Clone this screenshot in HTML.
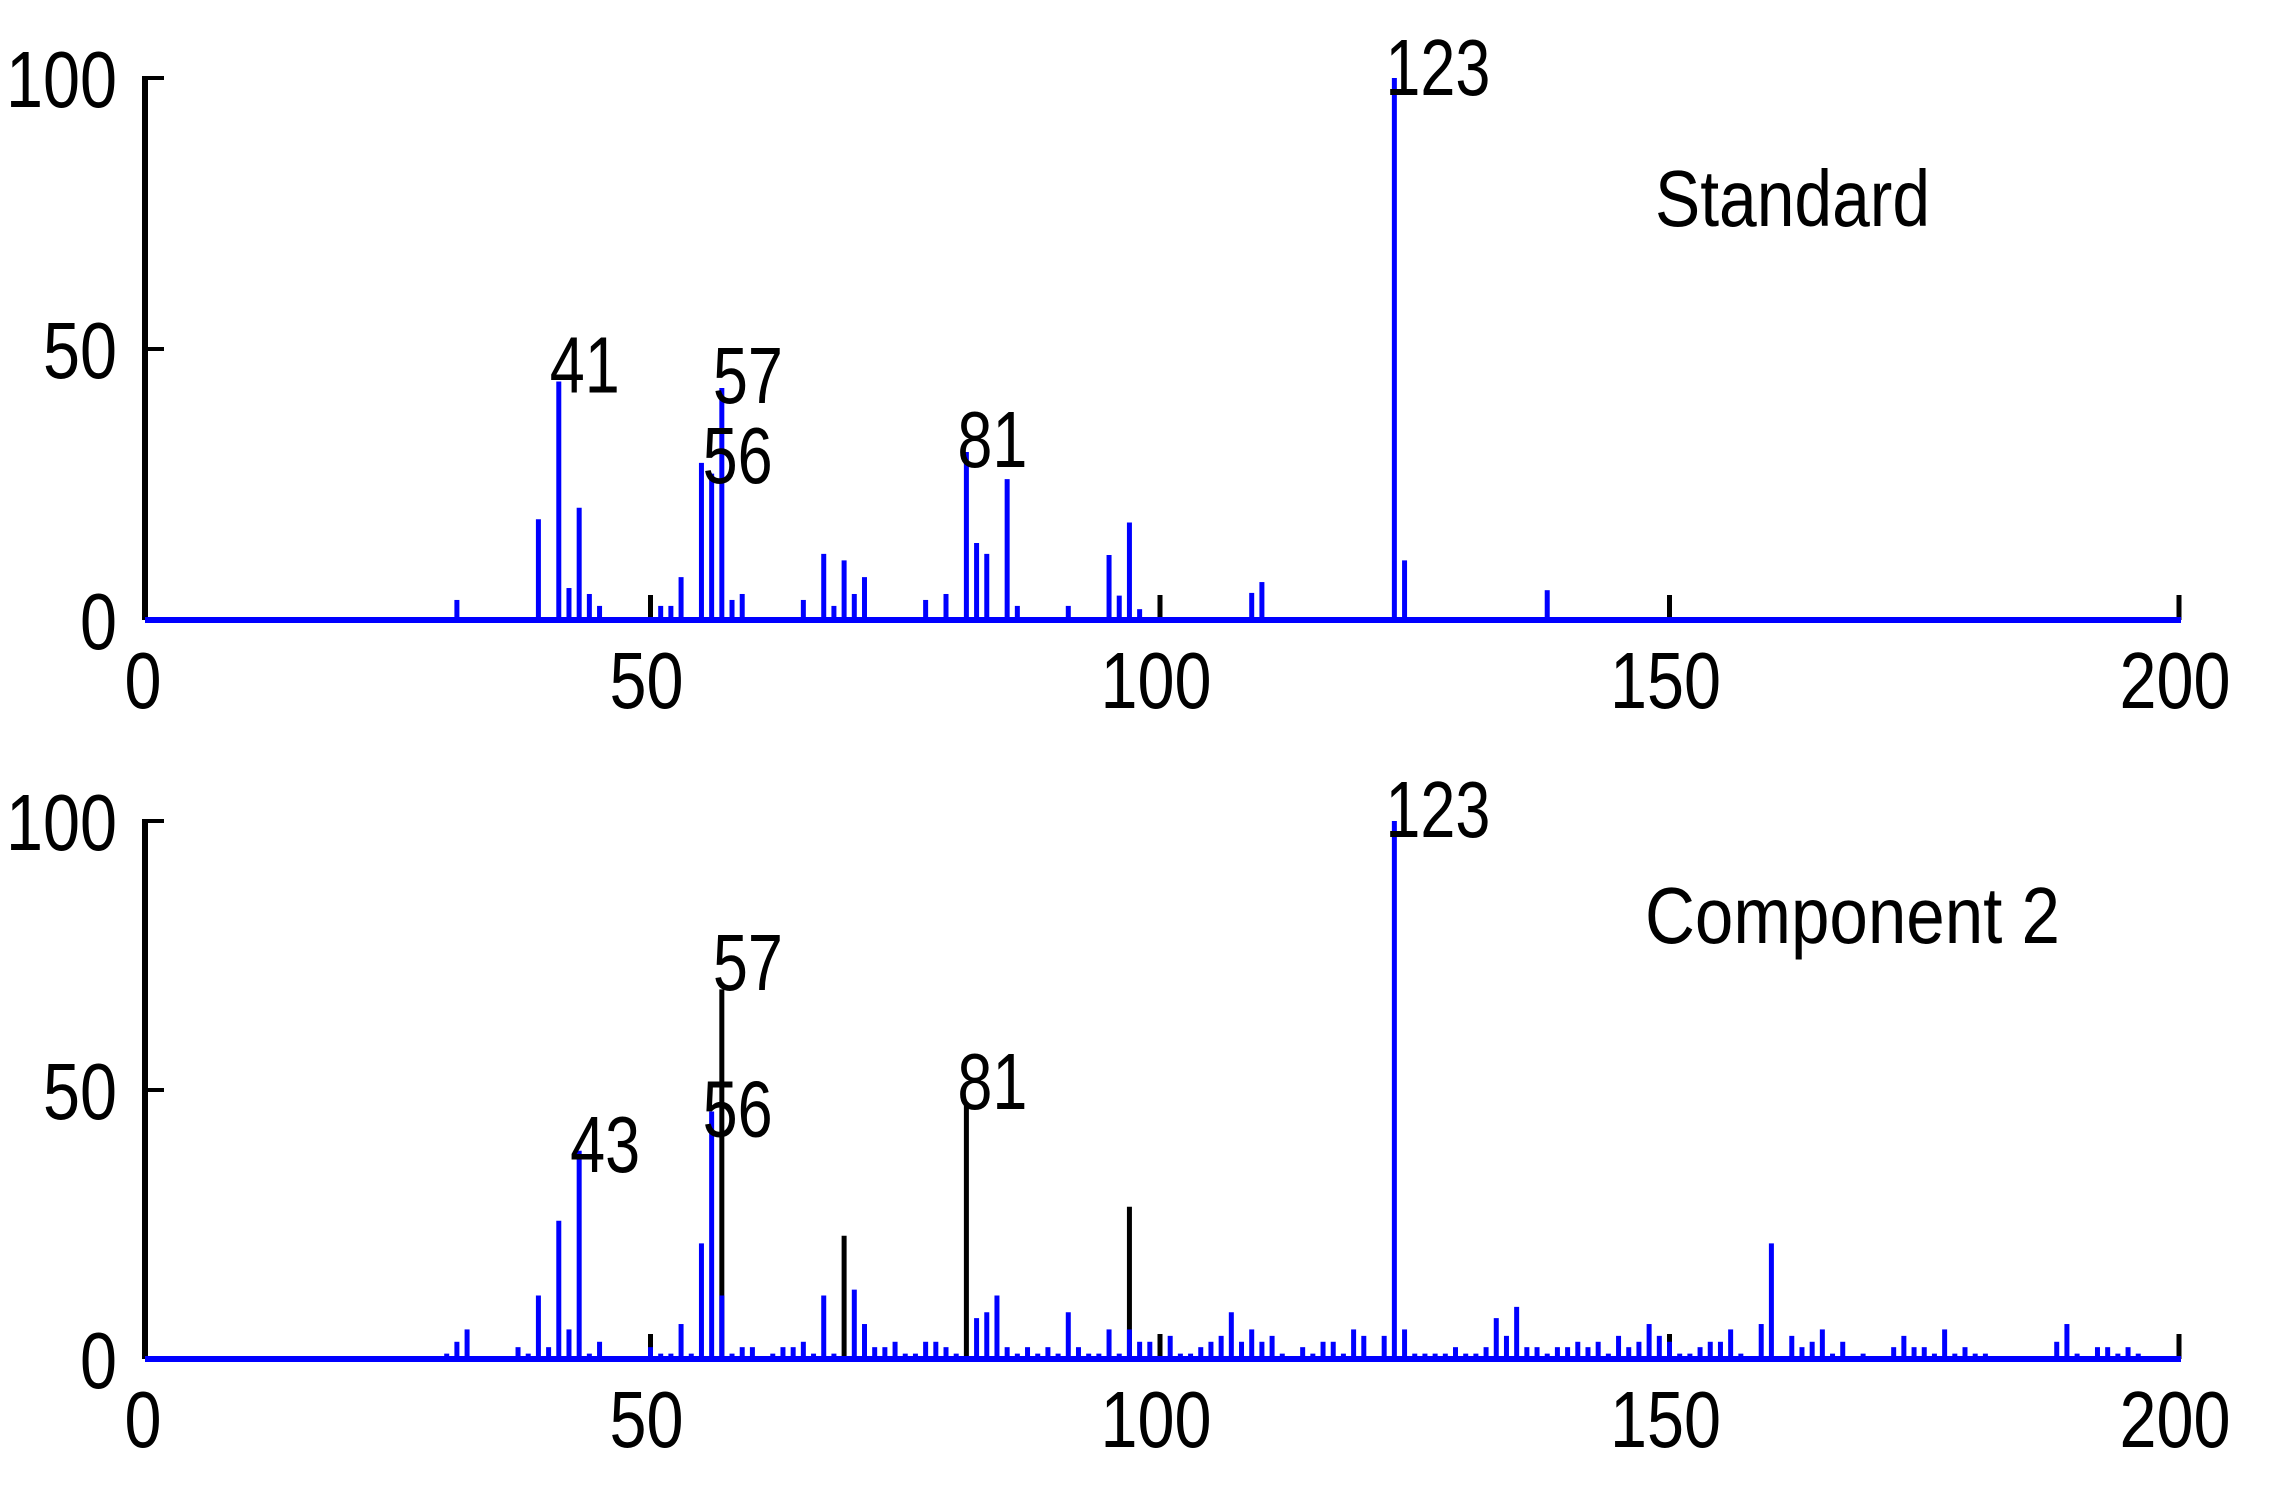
<!DOCTYPE html>
<html><head><meta charset="utf-8"><style>
html,body{margin:0;padding:0;background:#fff;}
svg{display:block;}
text{font-family:"Liberation Sans",sans-serif;fill:#000;}
</style></head>
<body>
<svg id="chart" width="2279" height="1496" viewBox="0 0 2279 1496" xmlns="http://www.w3.org/2000/svg"></svg>
<script>
// ---- data: Standard spectrum ----
const stdMz   = [31,39,41,42,43,44,45,51,52,53,55,56,57,58,59,65,67,68,69,70,71,77,79,81,82,83,85,86,91,95,96,97,98,109,110,123,124,138];
const stdInt  = [3.7,18.6,44,5.9,20.7,4.8,2.6,2.6,2.6,7.9,29,27,42.8,3.7,4.8,3.7,12.2,2.6,11,4.8,7.9,3.7,4.8,31,14.2,12.2,26,2.6,2.6,12,4.5,18,2,5,7,100,11,5.5];
const stdLabels    = ["41","57","56","81","123"];
const stdLabelMz   = [41,57,56,81,123];
const stdLabelY    = [42,40,25.3,28.2,96.9];
// ---- data: Component 2 spectrum (blue) ----
const compMz  = [30,31,32,37,38,39,40,41,42,43,44,45,50,51,52,53,54,55,56,57,58,59,60,62,63,64,65,66,67,68,70,71,72,73,74,75,76,77,78,79,80,82,83,84,85,86,87,88,89,90,91,92,93,94,95,96,97,98,99,101,102,103,104,105,106,107,108,109,110,111,112,114,115,116,117,118,119,120,122,123,124,125,126,127,128,129,130,131,132,133,134,135,136,137,138,139,140,141,142,143,144,145,146,147,148,149,150,151,152,153,154,155,156,157,159,160,162,163,164,165,166,167,169,172,173,174,175,176,177,178,179,180,181,188,189,190,192,193,194,195,196];
const compInt = [1,3.2,5.5,2.2,1,11.8,2.2,25.7,5.5,38.7,1,3.2,2.2,1,1,6.5,1,21.5,46,11.8,1,2.2,2.2,1,2.2,2.2,3.2,1,11.8,1,12.9,6.5,2.2,2.2,3.2,1,1,3.2,3.2,2.2,1,7.6,8.7,11.8,2.2,1,2.2,1,2.2,1,8.7,2.2,1,1,5.5,1,5.5,3.2,3.2,4.3,1,1,2.2,3.2,4.3,8.7,3.2,5.5,3.2,4.3,1,2.2,1,3.2,3.2,1,5.5,4.3,4.3,100,5.5,1,1,1,1,2.2,1,1,2.2,7.6,4.3,9.7,2.2,2.2,1,2.2,2.2,3.2,2.2,3.2,1,4.3,2.2,3.2,6.5,4.3,3.2,1,1,2.2,3.2,3.2,5.5,1,6.5,21.5,4.3,2.2,3.2,5.5,1,3.2,1,2.2,4.3,2.2,2.2,1,5.5,1,2.2,1,1,3.2,6.5,1,2.2,2.2,1,2.2,1];
// ---- data: Component 2 overlay (black) ----
const overMz  = [57,69,81,97];
const overInt = [68.7,22.9,47.7,28.3];
const compLabels   = ["57","56","43","81","123"];
const compLabelMz  = [57,56,43,81,123];
const compLabelY   = [68.6,41.4,34.8,46.5,97];
const xTicks = [0,50,100,150,200];
const yTicks = [0,50,100];

const svg = document.getElementById('chart');
const NS = 'http://www.w3.org/2000/svg';
function mk(tag, attrs){ const e=document.createElementNS(NS,tag); for(const k in attrs) e.setAttribute(k,attrs[k]); svg.appendChild(e); return e; }

const X0 = 141, XS = 10.19;
function xs(v){ return X0 + v*XS; }

function panel(id, y0, y100, mzs, ints, omz, oint, labels, lmz, ly, title, titleX, titleY, titleW){
  const sc = (y0 - y100)/100;
  const ys = v => y0 - v*sc;
  let e = mk('line',{x1:145,y1:y100-2,x2:145,y2:y0,stroke:'#000','stroke-width':6});
  
  
  yTicks.forEach(t=>{
    let tk = mk('line',{x1:145,y1:ys(t),x2:164,y2:ys(t),stroke:'#000','stroke-width':4});
    
    
    let tl = mk('text',{x:117,y:ys(t)+29,'font-size':80,'text-anchor':'end',textLength:String(t).length*37,lengthAdjust:'spacingAndGlyphs'});
    tl.textContent = t;
    
    
  });
  xTicks.forEach(t=>{
    if(t>0){
      let tk = mk('line',{x1:xs(t),y1:y0-25,x2:xs(t),y2:y0,stroke:'#000','stroke-width':5});
      
      
    }
    let tl = mk('text',{x:xs(t)+ (t==0?2:-4),y:y0+88,'font-size':80,'text-anchor':'middle',textLength:String(t).length*37,lengthAdjust:'spacingAndGlyphs'});
    tl.textContent = t;
    
    
  });
  omz.forEach((m,i)=>{
    let b = mk('line',{x1:xs(m),y1:ys(oint[i]),x2:xs(m),y2:y0,stroke:'#000','stroke-width':5});
    
    
  });
  mzs.forEach((m,i)=>{
    let b = mk('line',{x1:xs(m),y1:ys(ints[i]),x2:xs(m),y2:y0,stroke:'#0000ff','stroke-width':5});
    
    
  });
  e = mk('line',{x1:145,y1:y0,x2:xs(200)+2,y2:y0,stroke:'#0000ff','stroke-width':6});
  
  
  labels.forEach((s,i)=>{
    let t = mk('text',{x:xs(lmz[i])-9,y:ys(ly[i]),'font-size':80,textLength:s.length*35,lengthAdjust:'spacingAndGlyphs'});
    t.textContent = s;
    
    
  });
  let tt = mk('text',{x:titleX,y:titleY,'font-size':80,textLength:titleW,lengthAdjust:'spacingAndGlyphs'});
  tt.textContent = title;
  
  
}
panel('standard', 620, 78, stdMz, stdInt, [], [], stdLabels, stdLabelMz, stdLabelY, 'Standard', 1655, 226, 275);
panel('component2', 1359, 821, compMz, compInt, overMz, overInt, compLabels, compLabelMz, compLabelY, 'Component 2', 1645, 943, 415);
</script>
</body></html>
